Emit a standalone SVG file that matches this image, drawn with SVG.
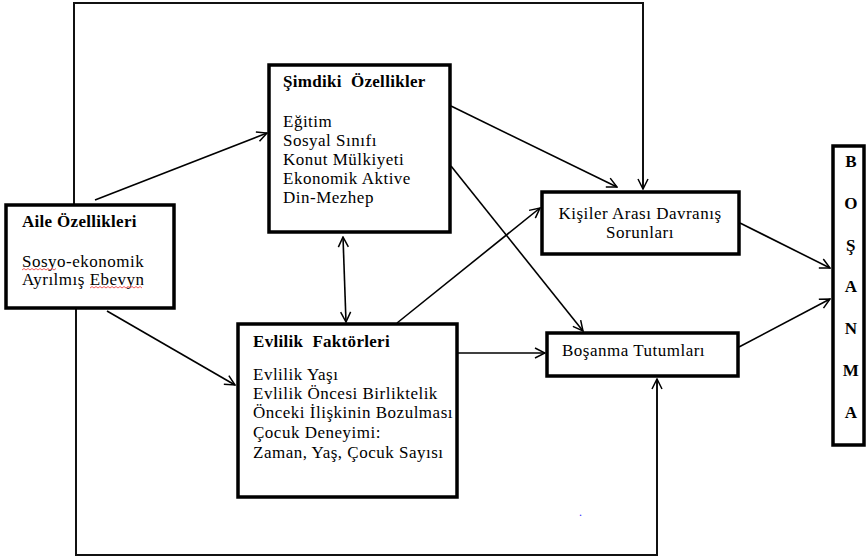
<svg xmlns="http://www.w3.org/2000/svg" width="866" height="559" viewBox="0 0 866 559">
<defs>
<marker id="ah" viewBox="0 0 12 12" refX="11" refY="6" markerWidth="12" markerHeight="12" markerUnits="userSpaceOnUse" orient="auto-start-reverse">
<path d="M1,1 L11,6 L1,11" fill="none" stroke="#000" stroke-width="1.5"/>
</marker>
<style>
.box{fill:#fff;stroke:#000;stroke-width:3.5}
.t{font-family:"Liberation Serif","Times New Roman",serif;font-size:17px;letter-spacing:0.5px;fill:#000}
.b{font-weight:bold;letter-spacing:0.3px}
.c{fill:none;stroke:#000;stroke-width:1.6}
.o{fill:none;stroke:#111;stroke-width:2}
.sq{fill:none;stroke:#e33;stroke-width:0.8}
</style>
</defs>
<rect width="866" height="559" fill="#fff"/>
<g id="connectors">
<polyline class="o" points="74,204 74,3 643,3 643,189" marker-end="url(#ah)"/>
<polyline class="o" points="76,309 76,555 657,555 657,379" marker-end="url(#ah)"/>
<line class="c" x1="95" y1="200" x2="267" y2="133" marker-end="url(#ah)"/>
<line class="c" x1="107" y1="311" x2="235" y2="385" marker-end="url(#ah)"/>
<line class="c" x1="343" y1="237" x2="346" y2="322" marker-start="url(#ah)" marker-end="url(#ah)"/>
<line class="c" x1="451" y1="106" x2="617" y2="187" marker-end="url(#ah)"/>
<line class="c" x1="451" y1="166" x2="583" y2="331" marker-end="url(#ah)"/>
<line class="c" x1="397" y1="323" x2="540" y2="208" marker-end="url(#ah)"/>
<line class="c" x1="458" y1="353" x2="545" y2="353" marker-end="url(#ah)"/>
<line class="c" x1="740" y1="223" x2="830" y2="268" marker-end="url(#ah)"/>
<line class="c" x1="739" y1="347" x2="830" y2="299" marker-end="url(#ah)"/>
</g>
<g id="aile">
<rect class="box" x="6" y="205" width="168" height="103"/>
<text class="t b" x="22" y="227">Aile Özellikleri</text>
<text class="t" x="22" y="267">Sosyo-ekonomik</text>
<text class="t" x="22" y="285">Ayrılmış Ebevyn</text>
<path class="sq" d="M22,270 l2,-1.5 l2,1.5 l2,-1.5 l2,1.5 l2,-1.5 l2,1.5 l2,-1.5 l2,1.5 l2,-1.5 l2,1.5 l2,-1.5 l2,1.5 l2,-1.5 l2,1.5 l2,-1.5 l2,1.5 l2,-1.5"/>
<path class="sq" d="M90,288 l2,-1.5 l2,1.5 l2,-1.5 l2,1.5 l2,-1.5 l2,1.5 l2,-1.5 l2,1.5 l2,-1.5 l2,1.5 l2,-1.5 l2,1.5 l2,-1.5 l2,1.5 l2,-1.5 l2,1.5 l2,-1.5 l2,1.5 l2,-1.5 l2,1.5 l2,-1.5 l2,1.5 l2,-1.5 l2,1.5 l2,-1.5 l2,1.5"/>
</g>
<g id="simdiki">
<rect class="box" x="269" y="65" width="181" height="167"/>
<text class="t b" x="283" y="87" xml:space="preserve">Şimdiki  Özellikler</text>
<text class="t" x="283" y="127">Eğitim</text>
<text class="t" x="283" y="146">Sosyal Sınıfı</text>
<text class="t" x="283" y="165">Konut Mülkiyeti</text>
<text class="t" x="283" y="184">Ekonomik Aktive</text>
<text class="t" x="283" y="203">Din-Mezhep</text>
</g>
<g id="evlilik">
<rect class="box" x="238" y="324" width="219" height="173"/>
<text class="t b" x="253" y="347" xml:space="preserve">Evlilik  Faktörleri</text>
<text class="t" x="253" y="380">Evlilik Yaşı</text>
<text class="t" x="253" y="399">Evlilik Öncesi Birliktelik</text>
<text class="t" x="253" y="418">Önceki İlişkinin Bozulması</text>
<text class="t" x="253" y="438">Çocuk Deneyimi:</text>
<text class="t" x="253" y="458">Zaman, Yaş, Çocuk Sayısı</text>
</g>
<g id="kisiler">
<rect class="box" x="542" y="192" width="197" height="62"/>
<text class="t" x="640" y="219" text-anchor="middle">Kişiler Arası Davranış</text>
<text class="t" x="640" y="238" text-anchor="middle">Sorunları</text>
</g>
<g id="tutumlari">
<rect class="box" x="547" y="333" width="191" height="43"/>
<text class="t" x="562" y="356">Boşanma Tutumları</text>
</g>
<g id="bosanma">
<rect class="box" x="833" y="146" width="31" height="299"/>
<text class="t b" x="851" y="167" text-anchor="middle">B</text>
<text class="t b" x="851" y="209" text-anchor="middle">O</text>
<text class="t b" x="851" y="251" text-anchor="middle">Ş</text>
<text class="t b" x="851" y="292" text-anchor="middle">A</text>
<text class="t b" x="851" y="334" text-anchor="middle">N</text>
<text class="t b" x="851" y="376" text-anchor="middle">M</text>
<text class="t b" x="851" y="418" text-anchor="middle">A</text>
</g>
<text class="t" x="579" y="516" style="fill:#33f;font-size:12px">.</text>
</svg>
